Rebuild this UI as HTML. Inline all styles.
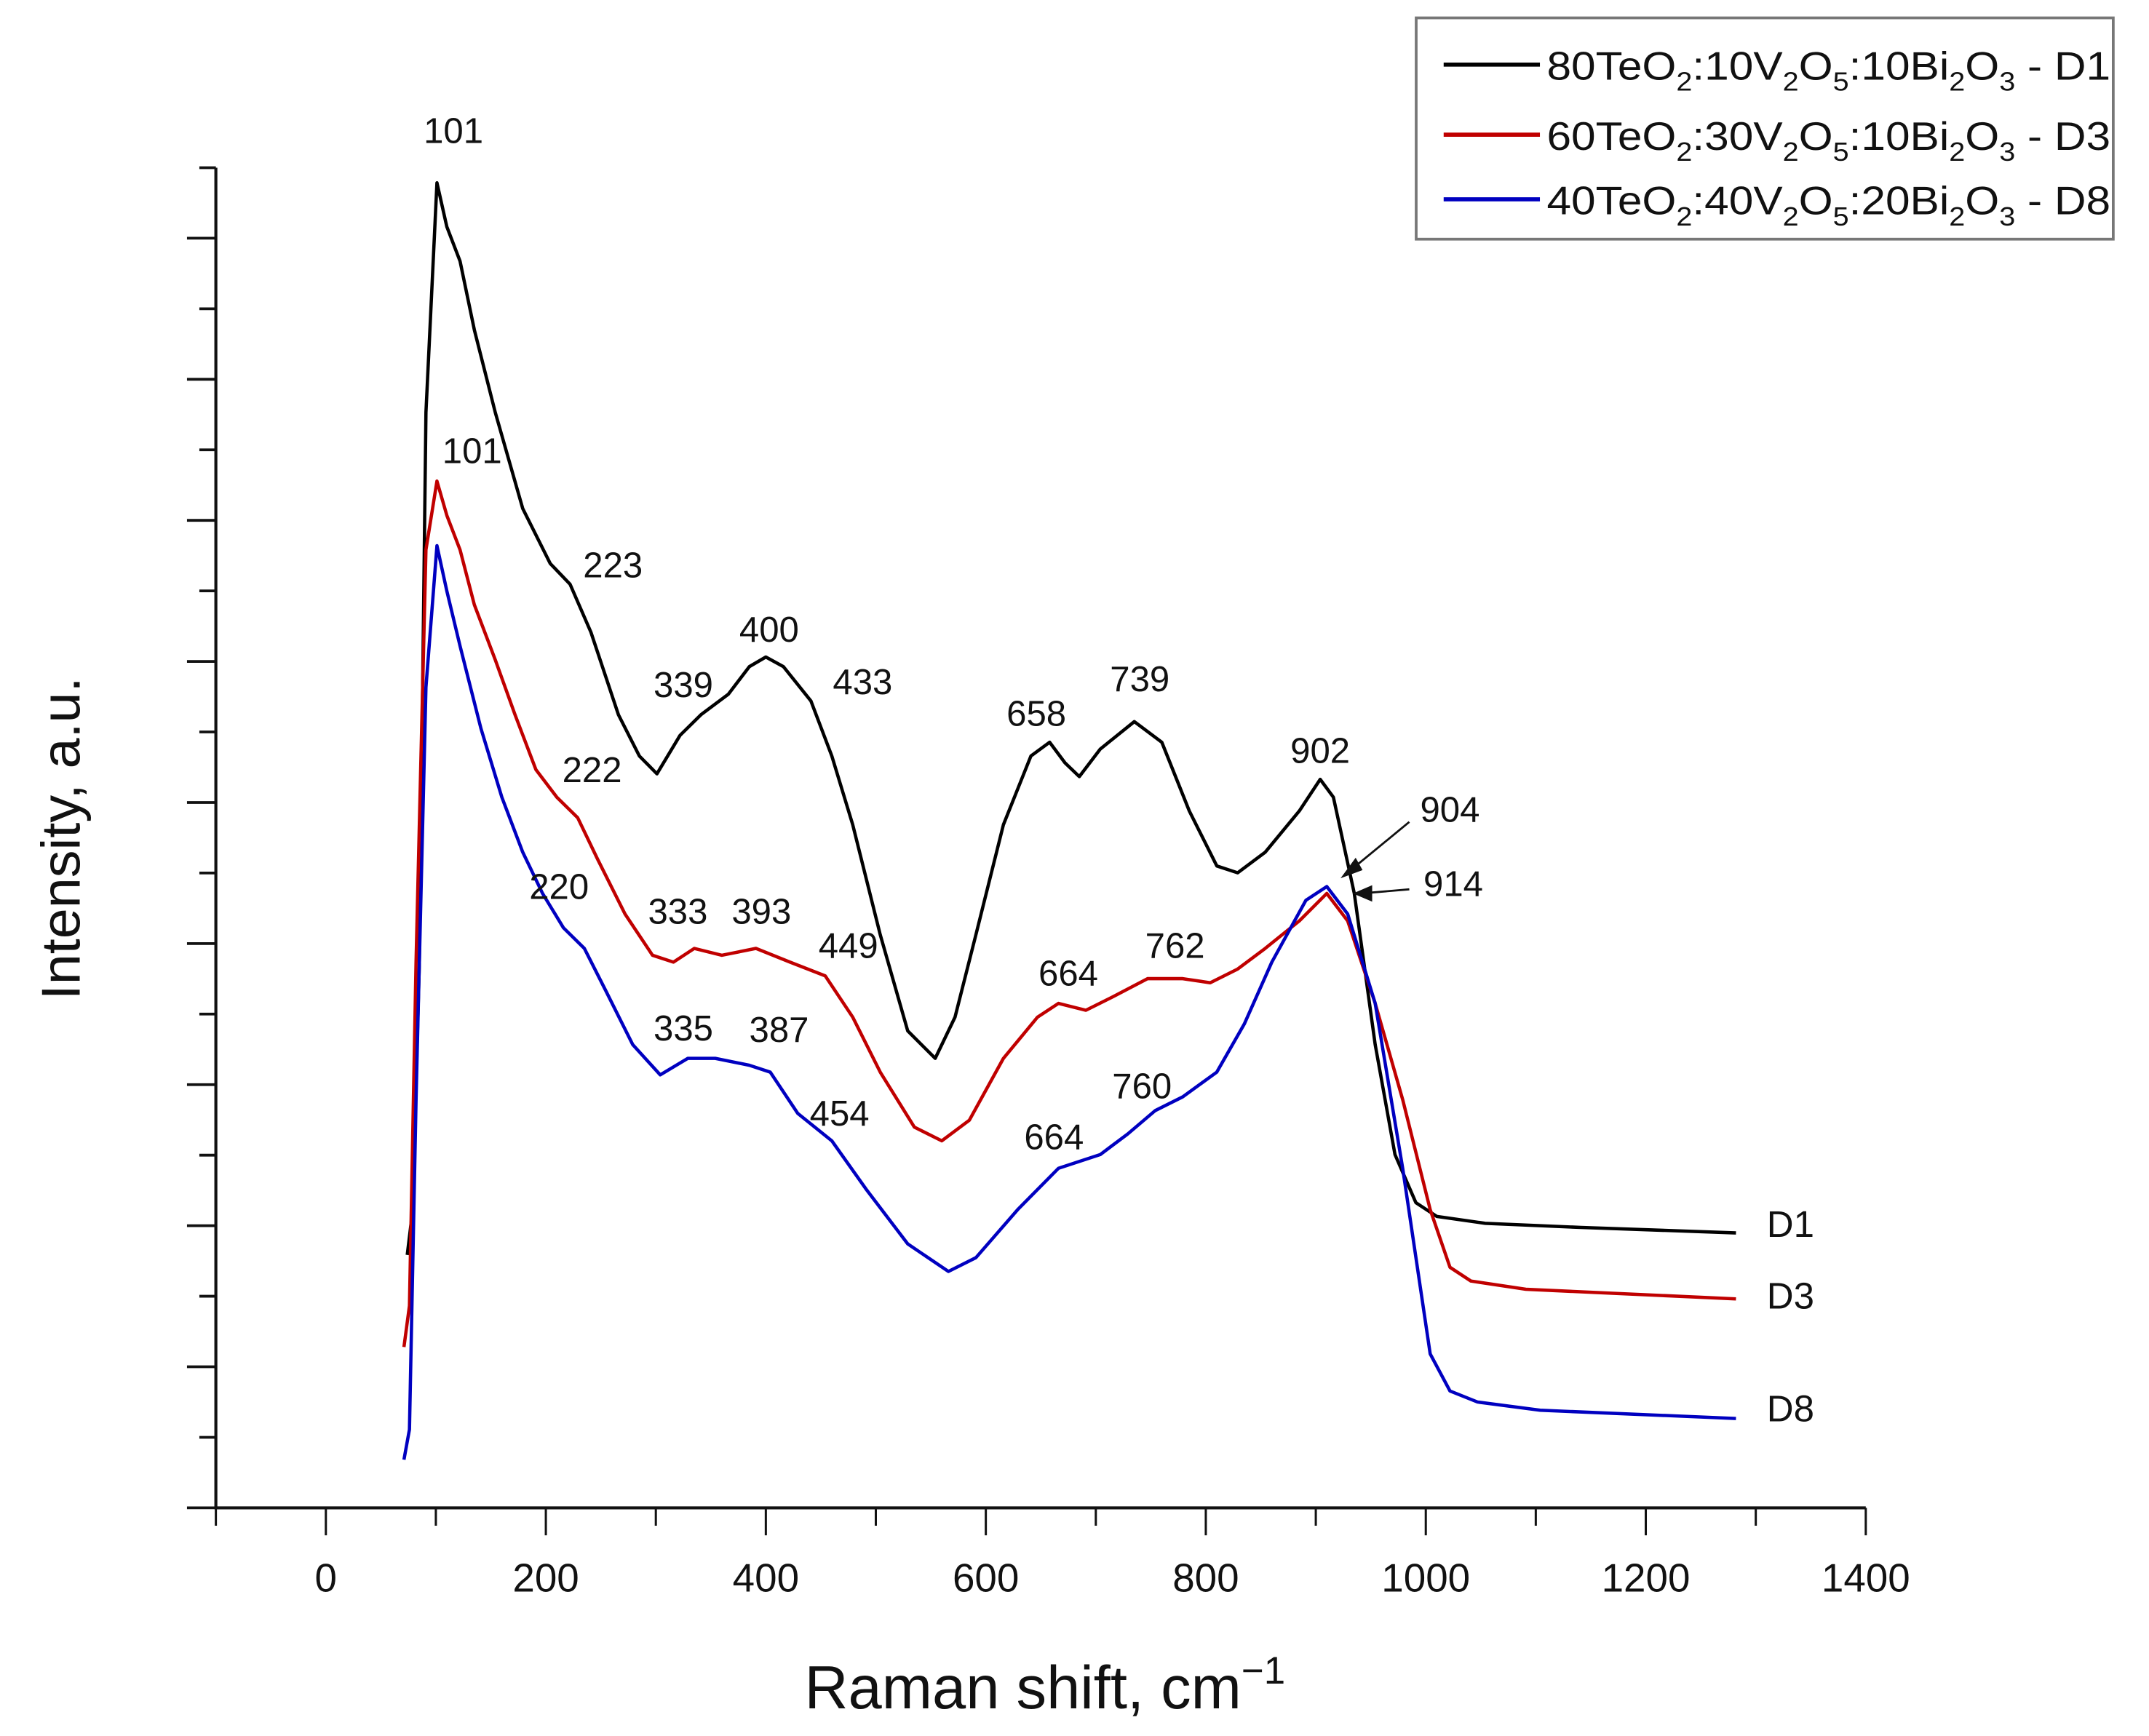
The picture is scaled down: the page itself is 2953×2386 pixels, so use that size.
<!DOCTYPE html>
<html><head><meta charset="utf-8"><style>html,body{margin:0;padding:0;background:#fff}svg{display:block}text{font-family:"Liberation Sans",Arial,sans-serif}</style></head>
<body>
<svg id="chart" width="2953" height="2386" viewBox="0 0 1563 1263" preserveAspectRatio="none" xmlns="http://www.w3.org/2000/svg">
<rect width="1563" height="1263" fill="#fff"/>
<g id="axes"></g>
<g id="series"></g>
<g id="annos"></g>
<text x="760" y="1243" font-size="44" text-anchor="middle" fill="#111">Raman shift, cm<tspan dy="-18" font-size="28">−1</tspan></text>
<text transform="translate(58,610) rotate(-90)" font-size="40" text-anchor="middle" fill="#111">Intensity, a.u.</text>
<g>
<rect x="1030" y="13" width="507" height="161" fill="#fff" stroke="#777" stroke-width="2"/>
<line x1="1050" y1="47" x2="1120" y2="47" stroke="#000" stroke-width="3"/>
<text x="1125" y="58" font-size="29" textLength="410" lengthAdjust="spacingAndGlyphs" fill="#111">80TeO<tspan font-size="19" dy="8">2</tspan><tspan dy="-8">:10V</tspan><tspan font-size="19" dy="8">2</tspan><tspan dy="-8">O</tspan><tspan font-size="19" dy="8">5</tspan><tspan dy="-8">:10Bi</tspan><tspan font-size="19" dy="8">2</tspan><tspan dy="-8">O</tspan><tspan font-size="19" dy="8">3</tspan><tspan dy="-8"> - D1</tspan></text>
<line x1="1050" y1="98" x2="1120" y2="98" stroke="#c00000" stroke-width="3"/>
<text x="1125" y="109" font-size="29" textLength="410" lengthAdjust="spacingAndGlyphs" fill="#111">60TeO<tspan font-size="19" dy="8">2</tspan><tspan dy="-8">:30V</tspan><tspan font-size="19" dy="8">2</tspan><tspan dy="-8">O</tspan><tspan font-size="19" dy="8">5</tspan><tspan dy="-8">:10Bi</tspan><tspan font-size="19" dy="8">2</tspan><tspan dy="-8">O</tspan><tspan font-size="19" dy="8">3</tspan><tspan dy="-8"> - D3</tspan></text>
<line x1="1050" y1="145" x2="1120" y2="145" stroke="#0000c0" stroke-width="3"/>
<text x="1125" y="156" font-size="29" textLength="410" lengthAdjust="spacingAndGlyphs" fill="#111">40TeO<tspan font-size="19" dy="8">2</tspan><tspan dy="-8">:40V</tspan><tspan font-size="19" dy="8">2</tspan><tspan dy="-8">O</tspan><tspan font-size="19" dy="8">5</tspan><tspan dy="-8">:20Bi</tspan><tspan font-size="19" dy="8">2</tspan><tspan dy="-8">O</tspan><tspan font-size="19" dy="8">3</tspan><tspan dy="-8"> - D8</tspan></text>
</g>
</svg>
<script>
const d1X=[74,79,85,91,101,110,122,135,154,179,204,222,241,266,285,301,322,341,366,385,400,416,441,460,479,504,529,554,572,591,616,641,658,672,685,704,735,760,785,810,829,854,885,904,916,935,954,972,991,1010,1054,1141,1282];
const d1Y=[184,217,397,797,964,932,907,857,797,727,687,672,637,577,547,534,562,577,592,612,619,612,587,547,497,417,347,327,357,417,497,547,557,542,532,552,572,557,507,467,462,477,507,530,517,447,337,257,222,212,207,204,200];
const d3X=[71,76,82,91,101,110,122,135,154,172,191,210,229,247,272,297,316,335,360,391,422,454,479,504,535,560,585,616,647,666,691,716,747,779,804,829,854,885,910,929,954,979,1004,1022,1041,1091,1282];
const d3Y=[117,147,397,697,747,722,697,657,617,577,537,517,502,472,432,402,397,407,402,407,397,387,357,317,277,267,282,327,357,367,362,372,385,385,382,392,407,427,447,427,367,297,217,175,165,159,152];
const d8X=[71,76,82,91,101,110,122,141,160,179,197,216,235,254,279,304,329,354,385,404,429,460,491,529,566,591,629,666,704,729,754,779,810,835,860,891,910,929,954,979,1004,1022,1047,1104,1282];
const d8Y=[35,57,297,597,700,667,627,567,517,477,447,422,407,377,337,315,327,327,322,317,287,267,232,192,172,182,217,247,257,272,289,299,317,352,397,442,452,432,367,247,112,85,77,71,65];
const xTicks=[0,200,400,600,800,1000,1200,1400];
const annoText=["101","101","223","339","400","433","658","739","902","904","914","222","333","393","449","664","762","220","335","387","454","664","760"];
const annoX=[116,133,261,325,403,488,646,740,904,1022,1025,242,320,396,475,675,772,212,325,412,467,662,742];
const annoY=[1002,769,686,599,639,601,578,603,551,508,454,537,434,434,409,389,409,452,349,348,287,270,307];
const seriesName=["d1","d3","d8"];
const seriesCol=["#000","#c00000","#0000c0"];
const endLabels=["D1","D3","D8"];
const endLabelY=[207,155,73];
const NS="http://www.w3.org/2000/svg";
const X0=157,X1=1357,Y0=1097,Y1=122;
const xs=v=>237+v*0.8;
const ys=v=>Y0-v;
function mk(t,a,p){const e=document.createElementNS(NS,t);for(const k in a)e.setAttribute(k,a[k]);p.appendChild(e);return e;}
const ax=document.getElementById('axes');
const yl=mk('line',{x1:X0,y1:Y1,x2:X0,y2:Y0+1,stroke:'#111','stroke-width':2.2},ax);


const xl=mk('line',{x1:X0-1,y1:Y0,x2:X1,y2:Y0,stroke:'#111','stroke-width':2.2},ax);


for(let i=0;i<=19;i++){const y=Y1+i*(Y0-Y1)/19;const len=(i%2)?21:12;
 const t=mk('line',{x1:X0-len,y1:y,x2:X0,y2:y,stroke:'#111','stroke-width':2},ax);
 
 }
for(let v=-100;v<=1400;v+=100){const major=xTicks.includes(v);
 const t=mk('line',{x1:xs(v),y1:Y0,x2:xs(v),y2:Y0+(major?20:13),stroke:'#111','stroke-width':1.6},ax);
 
 }
xTicks.forEach(v=>{const t=mk('text',{x:xs(v),y:1158,'font-size':29,'text-anchor':'middle',fill:'#111'},ax);t.textContent=v;
 
 });
const sg=document.getElementById('series');
[[d1X,d1Y],[d3X,d3Y],[d8X,d8Y]].forEach((s,i)=>{
 let d='';s[0].forEach((x,j)=>{d+=(j?'L':'M')+xs(x).toFixed(1)+','+ys(s[1][j]).toFixed(1);});
 const p=mk('path',{d:d,fill:'none',stroke:seriesCol[i],'stroke-width':2.4,'stroke-linejoin':'round'},sg);
 
 
 const t=mk('text',{x:1285,y:ys(endLabelY[i])+10,'font-size':27,fill:'#111'},sg);t.textContent=endLabels[i];
 
 
});
const ag=document.getElementById('annos');
annoText.forEach((s,i)=>{const t=mk('text',{x:xs(annoX[i]),y:ys(annoY[i])+9,'font-size':26,'text-anchor':'middle',fill:'#111'},ag);t.textContent=s;
 
 });
const a1=mk('path',{d:'M1025,598 L980,635',stroke:'#111','stroke-width':1.5,fill:'none'},ag);


const h1=mk('path',{d:'M975,639 L986,624 L991,633 Z',fill:'#111'},ag);


const a2=mk('path',{d:'M1025,647 L990,650',stroke:'#111','stroke-width':1.5,fill:'none'},ag);


const h2=mk('path',{d:'M984,650 L998,644 L998,656 Z',fill:'#111'},ag);


</script>
</body></html>
